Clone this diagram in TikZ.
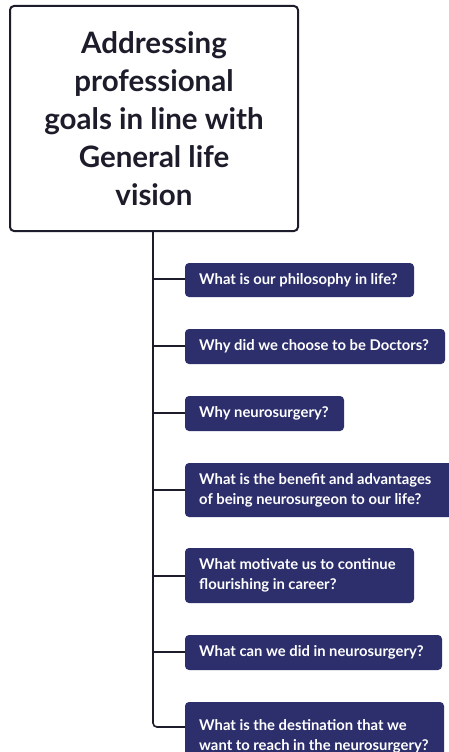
\documentclass[tikz,border=0pt]{standalone}
\usepackage{fontspec}
\setmainfont{Lato}
\definecolor{navy}{HTML}{2D2F6C}
\definecolor{ink}{HTML}{1C1C2A}
\begin{document}
\begin{tikzpicture}[x=1pt,y=-1pt,
  title/.style={draw=ink,line width=2pt,rounded corners=4pt,fill=white,anchor=north west,
     minimum width=288pt,minimum height=225pt,align=center,text=ink,
     font=\fontsize{29.5}{38}\selectfont\bfseries,inner sep=0pt},
  qbox/.style={fill=navy,rounded corners=4pt,anchor=north west,text=white,align=left,
     font=\fontsize{14.8}{20}\selectfont\bfseries,inner xsep=0pt,inner ysep=0pt},
  link/.style={draw=ink,line width=1.6pt,rounded corners=4pt}]
\useasboundingbox (0,0) rectangle (449,752);
\fill[white] (0,0) rectangle (449,752);
\node[title] (main) at (9,5) {Addressing\\professional\\goals in line with\\General life\\vision};
\coordinate (top) at (153,230);
\newcommand{\qb}[6]{% name, top, right, bottom, branch y, text
  \path[fill=navy,rounded corners=4pt] (185,#2) rectangle (#3,#4);
  \node[qbox,anchor=west] (#1) at (199,{(#2+#4)/2}) {#6};
  \coordinate (#1b) at (185,#5);}
\qb{q1}{263}{414}{297}{279}{What is our philosophy in life?}
\qb{q2}{329}{445}{364}{346}{Why did we choose to be Doctors?}
\qb{q3}{396}{344}{431}{413}{Why neurosurgery?}
\qb{q4}{463}{460}{517}{490}{What is the benefit and advantages\\of being neurosurgeon to our life?}
\qb{q5}{548}{414}{603}{576}{What motivate us to continue\\flourishing in career?}
\qb{q6}{635}{442}{670}{652}{What can we did in neurosurgery?}
\qb{q7}{702}{444}{770}{727}{What is the destination that we\\want to reach in the neurosurgery?}
\draw[link] (top) |- (q7b);
\foreach \n in {q1,q2,q3,q4,q5,q6}{
  \draw[link,rounded corners=0pt] (top |- \n b) -- (\n b);
}
\end{tikzpicture}
\end{document}
